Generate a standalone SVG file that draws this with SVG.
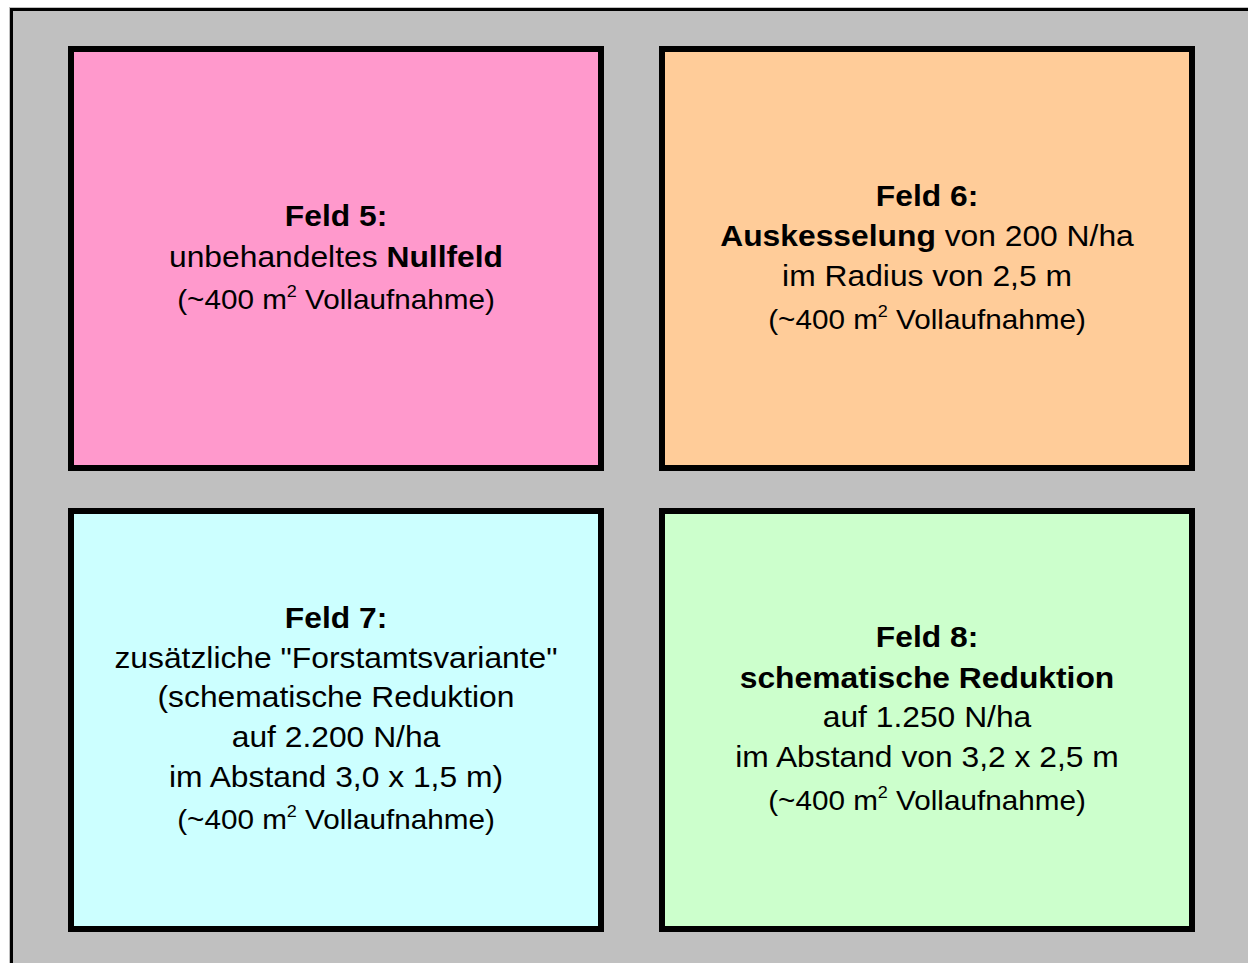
<svg xmlns="http://www.w3.org/2000/svg" width="1248" height="963" viewBox="0 0 1248 963">
  <style>
    .field { stroke: #000000; stroke-width: 6; }
    .t { font-family: "Liberation Sans", Arial, sans-serif; font-size: 30px; fill: #000000; text-anchor: middle; }
    .s { font-size: 28px; }
    .b { font-weight: bold; }
    .sup { font-size: 17px; }
  </style>

  <!-- background plot -->
  <rect x="0" y="0" width="1248" height="963" fill="#ffffff"/>
  <rect x="9" y="7" width="1239" height="956" fill="#c0c0c0"/>
  <path d="M11.5 963 V9.5 H1248" fill="none" stroke="#000000" stroke-width="3"/>

  <!-- Feld 5 -->
  <g id="feld5">
    <rect class="field" x="71" y="49" width="530" height="419" fill="#ff99cc"/>
    <g transform="translate(336 0) scale(1.06 1)">
      <text class="t b" x="0" y="226">Feld 5:</text>
      <text class="t" x="0" y="267">unbehandeltes <tspan class="b">Nullfeld</tspan></text>
      <text class="t s" x="0" y="309">(~400 m<tspan class="sup" dy="-12">2</tspan><tspan dy="12"> Vollaufnahme)</tspan></text>
    </g>
  </g>

  <!-- Feld 6 -->
  <g id="feld6">
    <rect class="field" x="662" y="49" width="530" height="419" fill="#ffcc99"/>
    <g transform="translate(927 0) scale(1.06 1)">
      <text class="t b" x="0" y="206">Feld 6:</text>
      <text class="t" x="0" y="246"><tspan class="b">Auskesselung</tspan> von 200 N/ha</text>
      <text class="t" x="0" y="286">im Radius von 2,5 m</text>
      <text class="t s" x="0" y="329">(~400 m<tspan class="sup" dy="-12">2</tspan><tspan dy="12"> Vollaufnahme)</tspan></text>
    </g>
  </g>

  <!-- Feld 7 -->
  <g id="feld7">
    <rect class="field" x="71" y="511" width="530" height="418" fill="#ccffff"/>
    <g transform="translate(336 0) scale(1.06 1)">
      <text class="t b" x="0" y="628">Feld 7:</text>
      <text class="t" x="0" y="668">zusätzliche "Forstamtsvariante"</text>
      <text class="t" x="0" y="707">(schematische Reduktion</text>
      <text class="t" x="0" y="747">auf 2.200 N/ha</text>
      <text class="t" x="0" y="787">im Abstand 3,0 x 1,5 m)</text>
      <text class="t s" x="0" y="829">(~400 m<tspan class="sup" dy="-12">2</tspan><tspan dy="12"> Vollaufnahme)</tspan></text>
    </g>
  </g>

  <!-- Feld 8 -->
  <g id="feld8">
    <rect class="field" x="662" y="511" width="530" height="418" fill="#ccffcc"/>
    <g transform="translate(927 0) scale(1.06 1)">
      <text class="t b" x="0" y="647">Feld 8:</text>
      <text class="t b" x="0" y="688">schematische Reduktion</text>
      <text class="t" x="0" y="727">auf 1.250 N/ha</text>
      <text class="t" x="0" y="767">im Abstand von 3,2 x 2,5 m</text>
      <text class="t s" x="0" y="810">(~400 m<tspan class="sup" dy="-12">2</tspan><tspan dy="12"> Vollaufnahme)</tspan></text>
    </g>
  </g>

  <!-- no connectors in this layout -->
  <g id="connectors"/>
</svg>
